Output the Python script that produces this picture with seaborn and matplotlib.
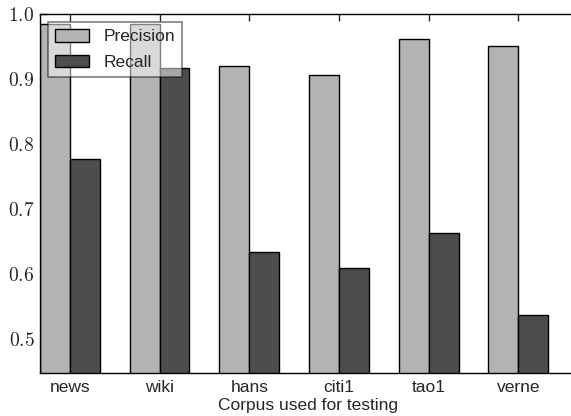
import matplotlib
matplotlib.use("Agg")
import matplotlib.pyplot as plt
import seaborn as sns
import pandas as pd

# === data ===
corpora = ["news", "wiki", "hans", "citi1", "tao1", "verne"]
precision = [0.985, 0.985, 0.920, 0.907, 0.962, 0.951]
recall = [0.777, 0.917, 0.635, 0.610, 0.663, 0.537]
y_ticks = [0.5, 0.6, 0.7, 0.8, 0.9, 1.0]

df = pd.DataFrame({
    "corpus": corpora * 2,
    "score": precision + recall,
    "metric": ["Precision"] * len(corpora) + ["Recall"] * len(corpora),
})

sns.set_style("ticks")
plt.rcParams["font.family"] = ["Liberation Sans", "DejaVu Sans"]
plt.rcParams["mathtext.fontset"] = "cm"

fig = plt.figure(figsize=(5.71, 4.16), dpi=100)
ax = fig.add_axes([0.07, 0.103, 0.94, 0.863])

sns.barplot(data=df, x="corpus", y="score", hue="metric", ax=ax,
            palette=["#b3b3b3", "#4d4d4d"], width=2 / 3, errorbar=None,
            edgecolor="black", linewidth=1.0, saturation=1)

ax.set_ylim(0.448, 1.0)
ax.set_xlim(-1 / 3, 5.65)
ax.set_yticks(y_ticks)
ax.set_yticklabels([f"${v:.1f}$" for v in y_ticks], fontsize=14)
ax.tick_params(axis="x", labelsize=12.5, direction="in", top=True, bottom=True,
               length=5, width=1, pad=5)
ax.tick_params(axis="y", direction="in", length=5, width=1, pad=4)
ax.set_xlabel("Corpus used for testing", fontsize=12.5, labelpad=2)
ax.set_ylabel("")
ax.spines["right"].set_visible(False)
for s in ["left", "top", "bottom"]:
    ax.spines[s].set_linewidth(1.0)
    ax.spines[s].set_color("black")

leg = ax.legend(loc="upper left", fontsize=12.5, framealpha=0.5, fancybox=False,
                edgecolor="black", handlelength=2.0, handleheight=0.75,
                borderaxespad=0.45, labelspacing=0.6, title=None)
leg.get_frame().set_linewidth(1.2)

fig.savefig("out.png", dpi=100)
